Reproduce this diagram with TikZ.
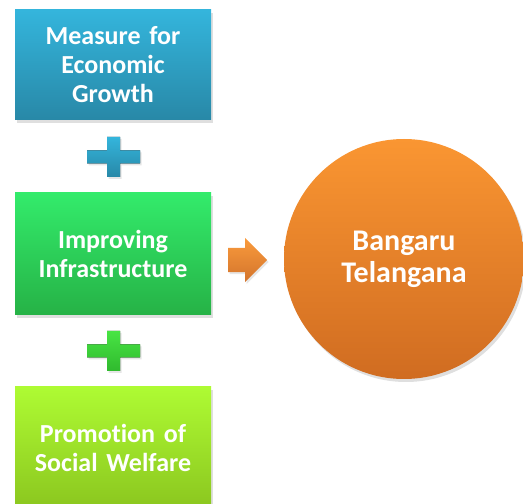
\documentclass[tikz,border=0pt]{standalone}
\usepackage{fontspec}
\setmainfont{Carlito}[Ligatures={NoCommon,NoContextual}]
\usetikzlibrary{positioning,shapes.arrows,shadows}
\definecolor{growthTop}{HTML}{34B5DC}
\definecolor{growthBot}{HTML}{2888A7}
\definecolor{infraTop}{HTML}{33EB6B}
\definecolor{infraBot}{HTML}{26B246}
\definecolor{welfareTop}{HTML}{AEFB33}
\definecolor{welfareBot}{HTML}{8BC61F}
\definecolor{goalTop}{HTML}{FA9632}
\definecolor{goalBot}{HTML}{D06C21}
\definecolor{plusGreenTop}{HTML}{48E444}
\definecolor{plusGreenBot}{HTML}{30BA2E}
\begin{document}
\begin{tikzpicture}[x=1pt,y=1pt,font=\fontsize{26}{29}\selectfont\bfseries]
		\tikzset{box/.style={inner sep=0pt,minimum width=196pt,text width=194pt,align=center,
				text=white,drop shadow={shadow xshift=2pt,shadow yshift=-3pt,opacity=0.25}},
			plussign/.pic={\fill[pic actions,drop shadow={shadow xshift=1.5pt,shadow yshift=-2pt,opacity=0.2}]
				(-6.5,20)--(6.5,20)--(6.5,6.5)--(26.5,6.5)--(26.5,-6.5)--(6.5,-6.5)--(6.5,-20)
				--(-6.5,-20)--(-6.5,-6.5)--(-26.5,-6.5)--(-26.5,6.5)--(-6.5,6.5)--cycle;}}
		\useasboundingbox (0,0) rectangle (523,504);
		\clip (0,0) rectangle (523,504);
		%--------- Boxes
		\node[box,minimum height=110pt,top color=growthTop,bottom color=growthBot] (growth) at (113,439) {Measure for\\Economic\\Growth};
		\node[box,minimum height=122pt,top color=infraTop,bottom color=infraBot] (infra) at (113,250) {Improving\\Infrastructure};
		\node[box,minimum height=122pt,top color=welfareTop,bottom color=welfareBot] (welfare) at (113,56) {Promotion of\\Social Welfare};
		%--------- Plus signs
		\pic[top color=growthTop,bottom color=growthBot] (plusA) at (113.5,347) {plussign};
		\pic[top color=plusGreenTop,bottom color=plusGreenBot] (plusB) at (113.5,153) {plussign};
		%--------- Arrow and goal
		\node[single arrow,single arrow head extend=10pt,minimum height=39pt,inner xsep=0pt,inner ysep=12pt,anchor=tail,
			top color=goalTop!95!white,bottom color=goalBot!95!white,
			drop shadow={shadow xshift=1.5pt,shadow yshift=-2pt,opacity=0.2}] (arrow) at (228,244) {};
		\node[circle,minimum size=240pt,inner sep=0pt,align=center,text=white,font=\fontsize{30}{32}\selectfont\bfseries,
			top color=goalTop,bottom color=goalBot,
			drop shadow={shadow xshift=2pt,shadow yshift=-3pt,opacity=0.25}] (goal) at (404,245) {Bangaru\\Telangana};
	\end{tikzpicture}
\end{document}
